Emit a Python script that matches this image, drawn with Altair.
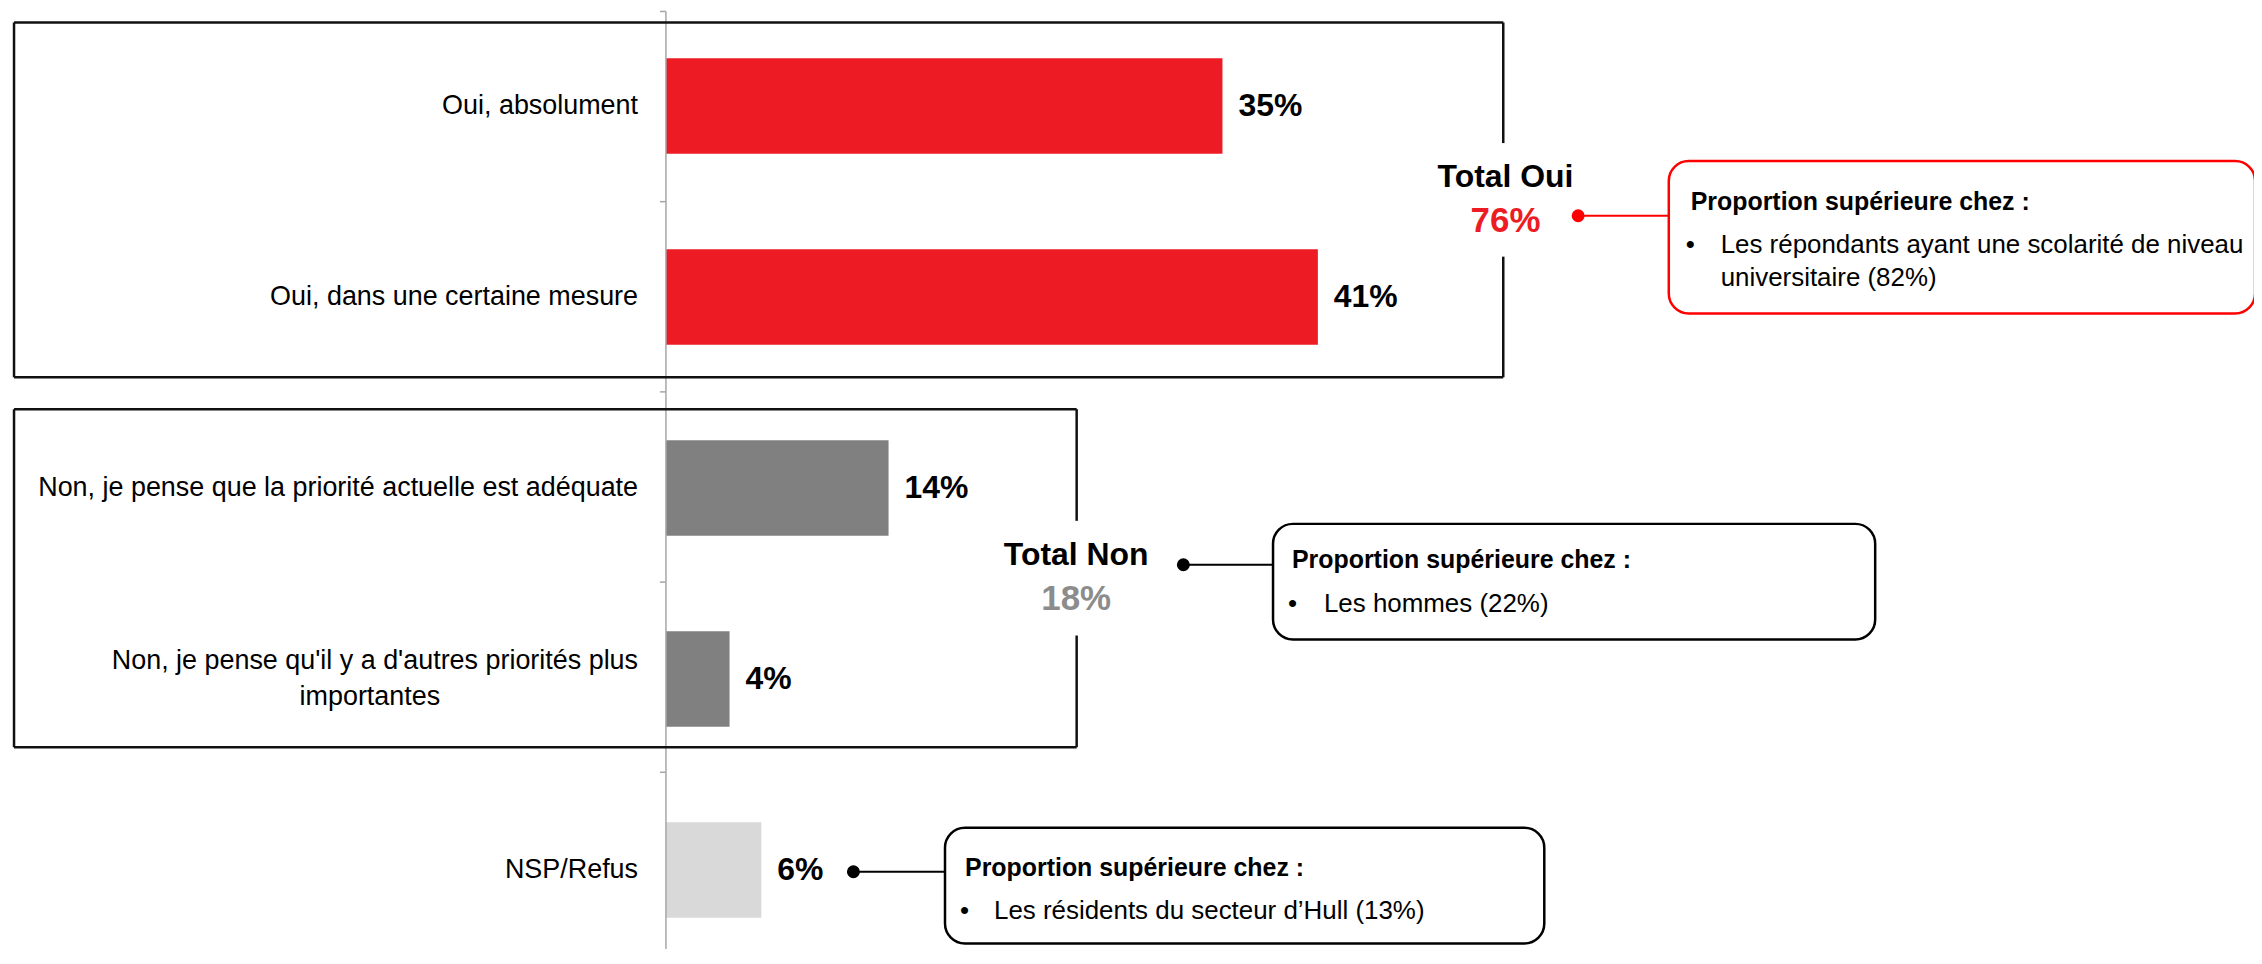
import altair as alt
import pandas as pd

# ---------------- data ----------------
categories = [
    "Oui, absolument",
    "Oui, dans une certaine mesure",
    "Non, je pense que la priorité actuelle est adéquate",
    "Non, je pense qu'il y a d'autres priorités plus importantes",
    "NSP/Refus",
]
label_lines = [
    ["Oui, absolument"],
    ["Oui, dans une certaine mesure"],
    ["Non, je pense que la priorité actuelle est adéquate"],
    ["Non, je pense qu'il y a d'autres priorités plus", "importantes"],
    ["NSP/Refus"],
]
values = [35, 41, 14, 4, 6]
groups = ["Oui", "Oui", "Non", "Non", "NSP"]
group_names = ["Oui", "Non", "NSP"]
group_colors = ["#ED1C24", "#808080", "#D9D9D9"]

total_titles = ["Total Oui", "Total Non"]
total_values = ["76%", "18%"]
total_colors = ["#ED1C24", "#8C8C8C"]

callout_header = "Proportion supérieure chez :"
callout_items = [
    ["Les répondants ayant une scolarité de niveau", "universitaire (82%)"],
    ["Les hommes (22%)"],
    ["Les résidents du secteur d\u2019Hull (13%)"],
]
callout_colors = ["#FF0000", "#000000", "#000000"]

FONT = "Liberation Sans"

# ---------------- scales ----------------
PLOT_W = 1592
xs = alt.Scale(domain=[0, PLOT_W / 15.95], nice=False, zero=False)
ys_band = alt.Scale(domain=categories, range=[0, 958], paddingInner=0.5, paddingOuter=0.25)
ys_row = alt.Scale(domain=[0, 5], range=[1, 955], nice=False, zero=False)

df = pd.DataFrame({
    "category": categories,
    "value": values,
    "group": groups,
    "label": [f"{v}%" for v in values],
})

Yc = alt.Y("category:N", scale=ys_band, axis=None)

bars = alt.Chart(df).mark_bar().encode(
    x=alt.X("value:Q", scale=xs, axis=None),
    y=Yc,
    color=alt.Color("group:N", scale=alt.Scale(domain=group_names, range=group_colors), legend=None),
)

val_text = alt.Chart(df).mark_text(
    align="left", baseline="middle", dx=16, fontSize=32, fontWeight="bold", color="#000000"
).encode(
    x=alt.X("value:Q", scale=xs, axis=None),
    y=Yc,
    text="label:N",
)

single = pd.DataFrame({
    "category": [c for c, l in zip(categories, label_lines) if len(l) == 1],
    "text": [l[0] for l in label_lines if len(l) == 1],
})
wrap1 = pd.DataFrame({
    "category": [c for c, l in zip(categories, label_lines) if len(l) > 1],
    "text": [l[0] for l in label_lines if len(l) > 1],
})
wrap2 = pd.DataFrame({
    "category": [c for c, l in zip(categories, label_lines) if len(l) > 1],
    "text": [l[1] for l in label_lines if len(l) > 1],
})

lab_single = alt.Chart(single).mark_text(
    align="right", baseline="middle", dx=-28, fontSize=27, color="#000000"
).encode(x=alt.X(datum=0, scale=xs, axis=None), y=Yc, text="text:N")
lab_w1 = alt.Chart(wrap1).mark_text(
    align="right", baseline="middle", dx=-28, dy=-18, fontSize=27, color="#000000"
).encode(x=alt.X(datum=0, scale=xs, axis=None), y=Yc, text="text:N")
lab_w2 = alt.Chart(wrap2).mark_text(
    align="center", baseline="middle", dx=-297, dy=18, fontSize=27, color="#000000"
).encode(x=alt.X(datum=0, scale=xs, axis=None), y=Yc, text="text:N")

data_layer = alt.layer(bars, val_text, lab_single, lab_w1, lab_w2)

# ---------------- annotations (x in %, y in row units) ----------------
def X(f):
    return alt.X(f, type="quantitative", scale=xs, axis=None)

def Y(f):
    return alt.Y(f, type="quantitative", scale=ys_row, axis=None)

# axis line and ticks
axis_line = alt.Chart(pd.DataFrame({"x": [0], "y": [0], "y2": [5]})).mark_rule(
    color="#A6A6A6", strokeWidth=1.5
).encode(x=X("x"), y=Y("y"), y2="y2:Q")
ticks = alt.Chart(pd.DataFrame({"y": list(range(len(categories) + 1))})).transform_calculate(
    x="-0.38", x2="0"
).mark_rule(color="#A6A6A6", strokeWidth=1.5).encode(x=X("x"), x2="x2:Q", y=Y("y"))

# group boxes (segments; right side broken around the total label)
seg = pd.DataFrame([
    # Oui box
    dict(x=-41.0, x2=52.66, y=0.058, y2=0.058),
    dict(x=-41.0, x2=52.66, y=1.923, y2=1.923),
    dict(x=-41.0, x2=-41.0, y=0.058, y2=1.923),
    dict(x=52.66, x2=52.66, y=0.058, y2=0.692),
    dict(x=52.66, x2=52.66, y=1.289, y2=1.923),
    # Non box
    dict(x=-41.0, x2=25.83, y=2.091, y2=2.091),
    dict(x=-41.0, x2=25.83, y=3.868, y2=3.868),
    dict(x=-41.0, x2=-41.0, y=2.091, y2=3.868),
    dict(x=25.83, x2=25.83, y=2.091, y2=2.678),
    dict(x=25.83, x2=25.83, y=3.281, y2=3.868),
])
boxes = alt.Chart(seg).mark_rule(color="#111111", strokeWidth=2.5).encode(
    x=X("x"), x2="x2:Q", y=Y("y"), y2="y2:Q"
)

# totals
tot = pd.DataFrame({
    "title": total_titles, "value": total_values, "color": total_colors,
    "x": [52.8, 25.8], "yt": [0.922, 2.909], "yv": [1.158, 3.145],
})
tot_title = alt.Chart(tot).mark_text(
    align="center", baseline="alphabetic", fontSize=32, fontWeight="bold", color="#000000"
).encode(x=X("x"), y=Y("yt"), text="title:N")
tot_value = alt.Chart(tot).mark_text(
    align="center", baseline="alphabetic", fontSize=35, fontWeight="bold"
).encode(x=X("x"), y=Y("yv"), text="value:N", color=alt.Color("color:N", scale=None))

# callouts
co = pd.DataFrame({
    "color": callout_colors,
    "bx": [63.07, 38.18, 17.55], "bx2": [99.94, 76.05, 55.24],
    "by": [0.786, 2.694, 4.292], "by2": [1.588, 3.302, 4.900],
    "dx": [57.37, 32.54, 11.79], "dy": [1.074, 2.909, 4.523],
    "hx": [64.45, 39.37, 18.81], "hy": [1.043, 2.925, 4.544],
    "header": [callout_header] * 3,
})
rects = alt.Chart(co).mark_rect(cornerRadius=20, fill="white", strokeWidth=2.5).encode(
    x=X("bx"), x2="bx2:Q", y=Y("by"), y2="by2:Q", stroke=alt.Color("color:N", scale=None)
)
conn = alt.Chart(co).mark_rule(strokeWidth=2.2).encode(
    x=X("dx"), x2="bx:Q", y=Y("dy"), color=alt.Color("color:N", scale=None)
)
dots = alt.Chart(co).mark_circle(size=170, opacity=1).encode(
    x=X("dx"), y=Y("dy"), color=alt.Color("color:N", scale=None)
)
headers = alt.Chart(co).mark_text(
    align="left", baseline="alphabetic", fontSize=25, fontWeight="bold", color="#000000"
).encode(x=X("hx"), y=Y("hy"), text="header:N")

item_rows = []
bullet_pos = [(64.14, 66.33, 1.268), (39.12, 41.38, 3.155), (18.50, 20.63, 4.769)]
line_step = 0.173
for items, (bx, tx, y0) in zip(callout_items, bullet_pos):
    for i, t in enumerate(items):
        item_rows.append(dict(text=t, x=tx, y=y0 + i * line_step, bullet="\u2022" if i == 0 else "", bxp=bx))
items_df = pd.DataFrame(item_rows)
item_text = alt.Chart(items_df).mark_text(
    align="left", baseline="alphabetic", fontSize=26, color="#000000"
).encode(x=X("x"), y=Y("y"), text="text:N")
bullets = alt.Chart(items_df).mark_text(
    align="left", baseline="alphabetic", fontSize=26, color="#000000"
).encode(x=X("bxp"), y=Y("y"), text="bullet:N")

annot_layer = alt.layer(axis_line, ticks, boxes, tot_title, tot_value, conn, rects, dots,
                        headers, item_text, bullets)

chart = alt.layer(data_layer, annot_layer).resolve_scale(y="independent").properties(
    width=PLOT_W,
    height=940,
    autosize=alt.AutoSizeParams(type="none"),
    padding={"left": 660, "top": 1, "right": 1, "bottom": 0},
    background="white",
).configure_view(strokeWidth=0).configure_text(font=FONT)

chart.save("out.html", embed_options={"renderer": "svg", "actions": False})
